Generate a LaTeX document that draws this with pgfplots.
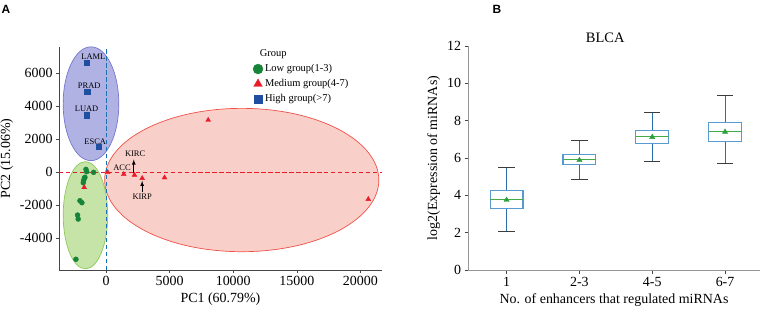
\documentclass[border=0pt]{standalone}
\usepackage{pgfplots}
\pgfplotsset{compat=1.18}
\usepgfplotslibrary{statistics}
\usepackage{fontspec}
\setmainfont{Liberation Serif}
\newfontfamily\arial{Liberation Sans}
\definecolor{grn}{RGB}{22,133,58}
\definecolor{rd}{RGB}{232,28,40}
\definecolor{bl}{RGB}{32,78,160}
\definecolor{blfill}{RGB}{176,178,228}
\definecolor{bledge}{RGB}{118,118,204}
\definecolor{gnfill}{RGB}{198,228,168}
\definecolor{gnedge}{RGB}{140,200,90}
\definecolor{rdfill}{RGB}{248,202,196}
\definecolor{rdedge}{RGB}{240,80,70}
\definecolor{axcol}{RGB}{70,70,70}
\definecolor{axgray}{RGB}{150,150,150}
\definecolor{boxcol}{RGB}{88,155,210}
\definecolor{whcol}{RGB}{40,110,170}
\definecolor{capcol}{RGB}{60,60,60}
\definecolor{medcol}{RGB}{70,170,70}
\definecolor{meancol}{RGB}{40,160,60}
\begin{document}
\begin{tikzpicture}
\useasboundingbox (0,0) rectangle (763bp,321bp);
\node[font=\arial\bfseries\fontsize{12}{14}\selectfont] at (6bp,312bp) {A};
\node[font=\arial\bfseries\fontsize{12}{14}\selectfont] at (497bp,312bp) {B};
% ---------- Panel A ----------
\begin{axis}[
  at={(59bp,51bp)}, anchor=south west,
  width=323bp, height=223bp, scale only axis,
  xmin=-3700, xmax=21700, ymin=-5940, ymax=7580,
  axis lines*=left,
  axis line style={draw=axcol, line width=0.7pt},
  xtick={0,5000,10000,15000,20000},
  ytick={-4000,-2000,0,2000,4000,6000},
  tick align=outside, major tick length=3bp,
  tick style={draw=axcol, line width=0.6pt},
  scaled ticks=false,
  /pgf/number format/.cd, 1000 sep={}, assume math mode=true, /pgfplots/.cd,
  ticklabel style={font=\fontsize{14}{16}\selectfont},
  label style={font=\fontsize{14}{16}\selectfont},
  xlabel={PC1 (60.79\%)}, ylabel={PC2 (15.06\%)},
  legend cell align=left,
  legend style={draw=none, fill=none, at={(0.58,1.005)}, anchor=north west,
    font=\fontsize{10.5}{12}\selectfont, row sep=2.2pt},
]
\draw[fill=blfill, draw=bledge, line width=0.7pt] (axis cs:-1185,4140) ellipse [x radius=2190, y radius=3450];
\draw[fill=gnfill, draw=gnedge, line width=0.7pt] (axis cs:-1620,-2620) ellipse [x radius=1750, y radius=3250];
\draw[fill=rdfill, fill opacity=0.9, draw=rdedge, line width=0.7pt] (axis cs:10670,-485) ellipse [x radius=10780, y radius=4345];
\addplot[forget plot, rd, line width=0.9pt, dash pattern=on 4.5pt off 2.5pt] coordinates {(-3700,0) (21700,0)};
\addplot[forget plot, bl!80!cyan, line width=1pt, dash pattern=on 4.5pt off 2.5pt] coordinates {(0,-5940) (0,7580)};
% data
\addplot[forget plot, only marks, mark=*, mark size=2.5pt, color=grn] coordinates {
 (-1580,160) (-1530,20) (-980,-20) (-1660,-320) (-1710,-380) (-1770,-530) (-1790,-650)
 (-2050,-1740) (-1900,-1860) (-2240,-2610) (-2190,-2850) (-2370,-5290)};
\addplot[forget plot, only marks, mark=triangle*, mark size=2.8pt, color=rd] coordinates {
 (130,-20) (1390,-140) (2235,-180) (2840,-380) (4600,-340) (8030,3150) (20620,-1650) (-1720,-930)};
\addplot[forget plot, only marks, mark=square*, mark size=2.6pt, color=bl] coordinates {
 (-1500,6620) (-1480,4870) (-1530,3450) (-610,1515)};
% labels
\node[font=\fontsize{8.5}{10}\selectfont] at (axis cs:-1000,6990) {LAML};
\node[font=\fontsize{8.5}{10}\selectfont] at (axis cs:-1320,5230) {PRAD};
\node[font=\fontsize{8.5}{10}\selectfont] at (axis cs:-1530,3820) {LUAD};
\node[font=\fontsize{8.5}{10}\selectfont] at (axis cs:-850,1840) {ESCA};
\node[font=\fontsize{8.5}{10}\selectfont] at (axis cs:1260,260) {ACC};
\node[font=\fontsize{8.5}{10}\selectfont] at (axis cs:2290,1090) {KIRC};
\node[font=\fontsize{8.5}{10}\selectfont] at (axis cs:2840,-1500) {KIRP};
\draw[-latex, line width=0.8pt] (axis cs:2180,-60) -- (axis cs:2180,760);
\draw[-latex, line width=0.8pt] (axis cs:2840,-1230) -- (axis cs:2840,-530);
% legend
\addlegendimage{empty legend}\addlegendentry{\hspace{-0.5em}Group}
\addlegendimage{only marks, mark=*, mark size=5pt, color=grn}\addlegendentry{Low group(1-3)}
\addlegendimage{only marks, mark=triangle*, mark size=5pt, color=rd}\addlegendentry{Medium group(4-7)}
\addlegendimage{only marks, mark=square*, mark size=4pt, color=bl}\addlegendentry{High group(>7)}
\end{axis}
% ---------- Panel B ----------
\begin{axis}[
  at={(468bp,51bp)}, anchor=south west,
  width=292bp, height=224bp, scale only axis,
  xmin=0.47, xmax=4.48, ymin=0, ymax=12,
  axis lines*=left,
  axis line style={draw=axgray, line width=0.8pt},
  xtick={1,2,3,4}, xticklabels={1,2-3,4-5,6-7},
  ytick={0,2,4,6,8,10,12},
  tick align=outside, major tick length=3.5bp,
  tick style={draw=axcol, line width=0.6pt},
  /pgf/number format/.cd, assume math mode=true, /pgfplots/.cd,
  ticklabel style={font=\fontsize{14}{16}\selectfont},
  label style={font=\fontsize{14}{16}\selectfont},
  xlabel={No. of enhancers that regulated miRNAs},
  ylabel={log2(Expression of miRNAs)},
  title={BLCA}, title style={font=\fontsize{14.5}{16}\selectfont, at={(0.47,1.0)}, yshift=-6pt},
  boxplot/draw direction=y,
  boxplot/draw/box/.code={\draw[draw=boxcol, line width=1.1pt] (boxplot box cs:\pgfplotsboxplotvalue{lower quartile},0) rectangle (boxplot box cs:\pgfplotsboxplotvalue{upper quartile},1);},
  boxplot/draw/median/.code={\draw[draw=medcol, line width=0.9pt] (boxplot box cs:\pgfplotsboxplotvalue{median},0) -- (boxplot box cs:\pgfplotsboxplotvalue{median},1);},
  boxplot/draw/lower whisker/.code={\draw[draw=whcol, line width=0.8pt] (boxplot box cs:\pgfplotsboxplotvalue{lower whisker},0.5) -- (boxplot box cs:\pgfplotsboxplotvalue{lower quartile},0.5); \draw[draw=capcol, line width=0.8pt] (boxplot box cs:\pgfplotsboxplotvalue{lower whisker},0.25) -- (boxplot box cs:\pgfplotsboxplotvalue{lower whisker},0.75);},
  boxplot/draw/upper whisker/.code={\draw[draw=whcol, line width=0.8pt] (boxplot box cs:\pgfplotsboxplotvalue{upper quartile},0.5) -- (boxplot box cs:\pgfplotsboxplotvalue{upper whisker},0.5); \draw[draw=capcol, line width=0.8pt] (boxplot box cs:\pgfplotsboxplotvalue{upper whisker},0.25) -- (boxplot box cs:\pgfplotsboxplotvalue{upper whisker},0.75);},
]
\addplot[boxplot prepared={lower whisker=2.07, lower quartile=3.31, median=3.79, upper quartile=4.24, upper whisker=5.51, draw position=1, box extend=0.45}] coordinates {};
\addplot[boxplot prepared={lower whisker=4.86, lower quartile=5.67, median=5.93, upper quartile=6.18, upper whisker=6.92, draw position=2, box extend=0.45}] coordinates {};
\addplot[boxplot prepared={lower whisker=5.84, lower quartile=6.77, median=7.15, upper quartile=7.45, upper whisker=8.46, draw position=3, box extend=0.45}] coordinates {};
\addplot[boxplot prepared={lower whisker=5.70, lower quartile=6.90, median=7.42, upper quartile=7.92, upper whisker=9.33, draw position=4, box extend=0.45}] coordinates {};
\addplot[only marks, mark=triangle*, mark size=3pt, color=meancol] coordinates {(1,3.75) (2,5.88) (3,7.12) (4,7.40)};
\end{axis}
\end{tikzpicture}
\end{document}
